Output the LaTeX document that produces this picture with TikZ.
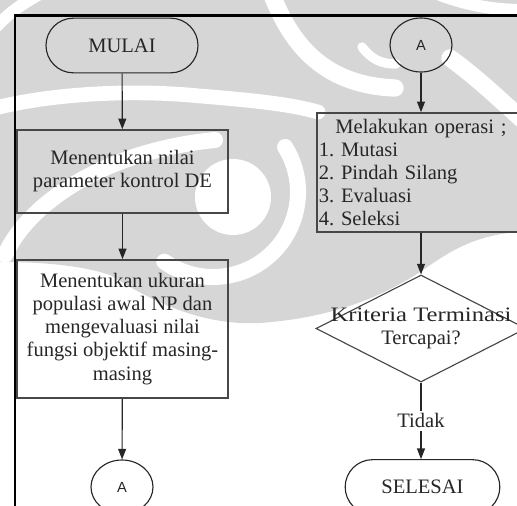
\documentclass[tikz,border=0pt]{standalone}
\usepackage{fontspec}
\setmainfont{Liberation Serif}
\newfontfamily\labelsans{Liberation Sans}
\usetikzlibrary{shapes.geometric,shapes.misc,arrows.meta}
\definecolor{wmgray}{HTML}{D6D6D6}
\definecolor{ink}{HTML}{262626}
\frenchspacing
\begin{document}
\begin{tikzpicture}[x=0.75pt,y=-0.75pt,
  every node/.style={font=\fontsize{15.4pt}{17.3pt}\selectfont, text=ink},
  terminal/.style={rounded rectangle, draw=ink, line width=0.85pt,
    minimum height=41pt, inner sep=0pt},
  procbox/.style={rectangle, draw=ink!85, line width=1.2pt, align=center, inner sep=0pt},
  connector/.style={ellipse, draw=ink, line width=0.85pt, minimum width=46.5pt,
    minimum height=40.5pt, inner sep=0pt, font=\labelsans\fontsize{11pt}{13pt}\selectfont},
  decision/.style={diamond, draw=ink!85, line width=0.85pt, minimum width=157.5pt,
    minimum height=80.25pt, inner sep=0pt},
  flow/.style={draw=ink, line width=0.85pt, -{Triangle[length=8pt,width=6pt]}},
  swirl/.style={draw=white, line cap=round}
]
\useasboundingbox (0,0) rectangle (517,506);

% background watermark
\begin{scope}
  \fill[wmgray] (0,0) -- (517,0) -- (517,232)
    .. controls (470,236) and (445,255) .. (420,272)
    .. controls (380,298) and (330,318) .. (260,323)
    .. controls (200,326) and (150,300) .. (110,275)
    .. controls (80,265) and (40,262) .. (0,262) -- cycle;
  \fill[white] (233,197) circle[radius=38];
  \draw[swirl, line width=12pt] (213,192) ++(-32:85) arc[start angle=-32, end angle=125, radius=85];
  \draw[swirl, line width=13pt] (272,-5) .. controls (290,40) and (320,85) .. (395,88);
  \draw[swirl, line width=11pt] (-5,108) .. controls (60,92) and (140,90) .. (200,96)
    .. controls (250,100) and (290,104) .. (318,112);
  \draw[swirl, line width=7pt] (362,47) .. controls (372,60) and (382,64) .. (396,64);
  \draw[swirl, line width=12pt] (5,255) .. controls (30,200) and (110,150) .. (215,140);
  \draw[swirl, line width=9pt] (-5,28) .. controls (10,12) and (22,4) .. (38,-5);
  \draw[swirl, line width=13pt] (450,58) .. controls (480,80) and (500,100) .. (525,122);
  \draw[swirl, line width=9pt] (440,-5) .. controls (470,6) and (495,10) .. (525,10);
\end{scope}

% frame
\draw[line width=2.2pt, black] (15,520) -- (15,15.5) -- (530,15.5);

% left column
\node[terminal, minimum width=114pt] (start) at (122,45.5) {MULAI};
\node[procbox, minimum width=158.25pt, minimum height=62.25pt] (param) at (122.5,171.5)
  {Menentukan nilai\\parameter kontrol DE};
\node[procbox, minimum width=158.25pt, minimum height=103.5pt] (pop) at (122.5,329)
  {Menentukan ukuran\\populasi awal NP dan\\mengevaluasi nilai\\fungsi objektif masing-\\masing};
\node[connector] (conA1) at (122,487) {A};

% right column
\node[connector] (conA2) at (421,45) {A};
\node[procbox, align=left, text width=157.5pt, inner xsep=1.5pt, minimum height=89.25pt,
  anchor=west] (ops) at (316,172.5)
  {\hspace*{12.5pt}Melakukan operasi ;\\1. Mutasi\\2. Pindah Silang\\3. Evaluasi\\4. Seleksi};
\node[decision] (crit) at (421,328.5) {};
\node[align=center, inner sep=0pt] (critlabel) at (crit.center)
  {{\addfontfeature{FakeStretch=1.2}Kriteria Terminasi}\\Tercapai?};
\node[terminal, minimum width=116pt] (stop) at (422.5,487) {SELESAI};

% connectors
\draw[flow] (start) -- (param);
\draw[flow] (param) -- (pop);
\draw[flow] (pop) -- (conA1);
\draw[flow] (conA2) -- (conA2 |- ops.north);
\draw[flow] (crit |- ops.south) -- (crit.north);
\draw[flow] (crit.south) -- node[fill=white, inner xsep=1pt, inner ysep=2pt] (no) {Tidak}
  (crit.south |- stop.north);
\end{tikzpicture}
\end{document}
